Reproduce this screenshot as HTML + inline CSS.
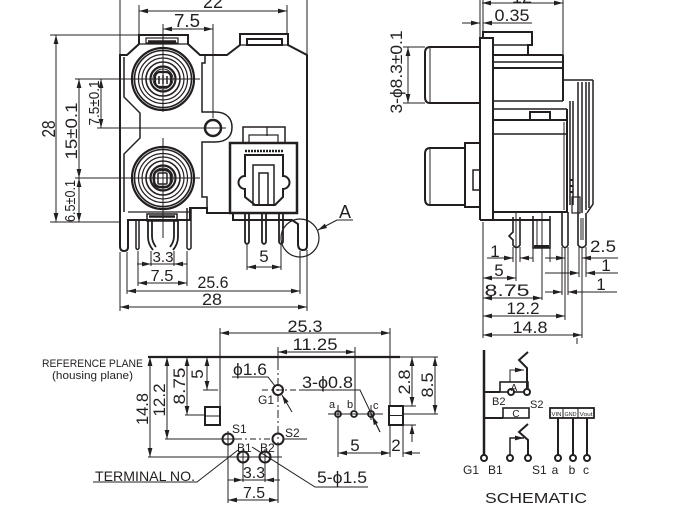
<!DOCTYPE html>
<html><head><meta charset="utf-8"><style>
html,body{margin:0;padding:0;background:#fff;}
svg{display:block;}
text{font-family:"Liberation Sans",Arial,sans-serif;fill:#231f20;stroke:none;}
</style></head><body>
<svg width="687" height="511" viewBox="0 0 687 511" xmlns="http://www.w3.org/2000/svg">
<defs>
<marker id="ar" markerUnits="userSpaceOnUse" markerWidth="9" markerHeight="6" refX="9" refY="3" orient="auto-start-reverse"><path d="M0,0.6 L9,3 L0,5.4 Z" fill="#231f20" stroke="none"/></marker>
</defs>
<g stroke="#231f20" fill="none" stroke-width="1">

<!-- ================= FRONT VIEW ================= -->
<!-- top dims -->
<line x1="120" y1="0" x2="120" y2="55"/>
<line x1="307" y1="0" x2="307" y2="55"/>
<line x1="139" y1="5" x2="139" y2="35"/>
<line x1="287" y1="5" x2="287" y2="35"/>
<line x1="139" y1="11" x2="287" y2="11" marker-start="url(#ar)" marker-end="url(#ar)"/>
<line x1="163" y1="24" x2="163" y2="112"/>
<line x1="213" y1="24" x2="213" y2="118"/>
<line x1="163" y1="29" x2="213" y2="29" marker-start="url(#ar)" marker-end="url(#ar)"/>

<!-- left dims -->
<line x1="50" y1="35" x2="139" y2="35"/>
<line x1="50" y1="222" x2="120" y2="222"/>
<line x1="56" y1="35" x2="56" y2="222" marker-start="url(#ar)" marker-end="url(#ar)"/>
<line x1="75" y1="79" x2="200" y2="79"/>
<line x1="97" y1="128" x2="226" y2="128"/>
<line x1="75" y1="178" x2="200" y2="178"/>
<line x1="79" y1="79" x2="79" y2="178" marker-start="url(#ar)" marker-end="url(#ar)"/>
<line x1="79" y1="178" x2="79" y2="222" marker-start="url(#ar)" marker-end="url(#ar)"/>
<line x1="101" y1="79" x2="101" y2="128" marker-start="url(#ar)" marker-end="url(#ar)"/>

<!-- body outline -->
<path stroke-width="2" d="M128,220 L128,247 Q128,251 124,251 Q120,251 120,246 L120,55 L127,55 L139,44 L139,35 L188,35 L188,44 L200,55 L227,55 L240,45 L240,34 L288,34 L288,45 L307,55 L307,246 Q307,250 303,250 Q298,250 298,244 L298,224 L292,220 L233,220 L233,213 L207,213 L207,208 L190,208 L190,220 Z"/>
<rect x="146" y="38" width="32" height="5" stroke-width="1.2"/>
<line x1="148" y1="41.5" x2="176" y2="41.5" stroke-width="2.5"/>
<rect x="247" y="39" width="35" height="6" stroke-width="2"/>
<line x1="139" y1="44" x2="188" y2="44" stroke-width="1.2"/>
<line x1="240" y1="45" x2="288" y2="45" stroke-width="1.2"/>

<!-- inner profiles -->
<path stroke-width="1.5" d="M124,57 L124,97 L140,113 L140,138 L124,154 L124,212"/>
<path stroke-width="1.5" d="M205,55 L205,63 L202,63 L202,112 L215,112 C228,112 232,120 232,127 C232,135 228,142 215,142 L202,142 L202,197 L207,197 L207,208"/>
<line x1="128" y1="212" x2="190" y2="212" stroke-width="1.2"/>

<!-- top jack -->
<circle cx="163" cy="79" r="31" stroke-width="2.2"/>
<circle cx="163" cy="79" r="28.5" stroke-width="1.6"/>
<circle cx="163" cy="79" r="24.5" stroke-width="1.2"/>
<circle cx="163" cy="79" r="21" stroke-width="1.2"/>
<circle cx="163" cy="79" r="17" stroke-width="1.6"/>
<circle cx="163" cy="79" r="12.5" stroke-width="2.2"/>
<circle cx="163" cy="79" r="10" stroke-width="1"/>
<rect x="155" y="72" width="16" height="15" rx="5" stroke-width="2.2"/>
<path d="M159,76 L159,84 M163,75 L163,84 M167,76 L167,84" stroke-width="1.5"/>

<!-- bottom jack -->
<circle cx="163" cy="178" r="31" stroke-width="2.2"/>
<circle cx="163" cy="178" r="28.5" stroke-width="1.6"/>
<circle cx="163" cy="178" r="24.5" stroke-width="1.2"/>
<circle cx="163" cy="178" r="21" stroke-width="1.2"/>
<circle cx="163" cy="178" r="17" stroke-width="1.6"/>
<circle cx="163" cy="178" r="12.5" stroke-width="2.2"/>
<circle cx="163" cy="178" r="10" stroke-width="1"/>
<rect x="154" y="170" width="17" height="17" rx="6" stroke-width="2.5"/>
<rect x="158" y="173" width="9" height="11" rx="1" stroke-width="1.5"/>
<line x1="163" y1="138" x2="163" y2="238"/>

<!-- hole -->
<circle cx="213" cy="128" r="8" stroke-width="2.5"/>

<!-- optical module -->
<rect x="230" y="143" width="67" height="70" stroke-width="2.5"/>
<rect x="243" y="127" width="42" height="16" stroke-width="1.5"/>
<line x1="267" y1="127" x2="267" y2="136" stroke-width="1.2"/>
<rect x="249" y="135" width="29" height="8" stroke-width="1.2"/>
<line x1="245" y1="151" x2="283" y2="151" stroke-width="2.5" stroke-dasharray="2,1"/>
<path stroke-width="2" d="M245,155 L283,155 L283,176 A6,6 0 0 1 283,189 L283,197 L275,205 L255,205 L245,197 L245,189 A6,6 0 0 1 245,176 Z"/>
<rect x="253" y="165" width="21" height="40" stroke-width="1.5"/>
<rect x="259" y="173" width="9" height="32" stroke-width="1.5"/>
<path stroke-width="1.8" d="M245,213 L245,242 Q247,246 249,242 L249,213 M262,213 L262,242 Q264,246 266,242 L266,213 M279,213 L279,242 Q281,246 283,242 L283,213"/>

<!-- front pins / springs -->
<path stroke-width="1.5" d="M136,220 L136,248 Q137.5,251 139,248 L139,220"/>
<path stroke-width="1.8" d="M148,221 L148,237 Q148,244 153,250 M152,221 L152,236 Q152,242 156,247"/>
<path stroke-width="1.8" d="M178,221 L178,237 Q178,244 173,250 M174,221 L174,236 Q174,242 170,247"/>
<path stroke-width="1.5" d="M187,208 L187,248 Q189,251 191,248 L191,208"/>
<rect x="147" y="214" width="30" height="7" stroke-width="1.5"/>
<line x1="149" y1="216.5" x2="175" y2="216.5" stroke-width="2.5"/>

<!-- bottom dims front -->
<line x1="151" y1="251" x2="151" y2="266"/>
<line x1="174" y1="251" x2="174" y2="266"/>
<line x1="137" y1="264" x2="187" y2="264"/>
<line x1="137" y1="264" x2="151" y2="264" marker-end="url(#ar)"/>
<line x1="187" y1="264" x2="174" y2="264" marker-end="url(#ar)"/>
<line x1="138" y1="251" x2="138" y2="286"/>
<line x1="187" y1="251" x2="187" y2="286"/>
<line x1="138" y1="283" x2="187" y2="283" marker-start="url(#ar)" marker-end="url(#ar)"/>
<line x1="127" y1="252" x2="127" y2="294"/>
<line x1="300" y1="251" x2="300" y2="294"/>
<line x1="127" y1="291" x2="300" y2="291" marker-start="url(#ar)" marker-end="url(#ar)"/>
<line x1="120" y1="252" x2="120" y2="311"/>
<line x1="307" y1="250" x2="307" y2="311"/>
<line x1="120" y1="307" x2="307" y2="307" marker-start="url(#ar)" marker-end="url(#ar)"/>
<line x1="247" y1="245" x2="247" y2="270"/>
<line x1="281" y1="245" x2="281" y2="270"/>
<line x1="247" y1="267" x2="281" y2="267" marker-start="url(#ar)" marker-end="url(#ar)"/>

<!-- detail A -->
<circle cx="300" cy="238" r="19" stroke-width="1.2"/>
<line x1="337" y1="220" x2="318" y2="230" marker-end="url(#ar)"/>
<line x1="337" y1="220" x2="353" y2="220"/>

<!-- ================= SIDE VIEW ================= -->
<line x1="482" y1="3" x2="563" y2="3" marker-start="url(#ar)" marker-end="url(#ar)"/>
<line x1="480" y1="0" x2="480" y2="38"/>
<line x1="483" y1="0" x2="483" y2="32"/>
<line x1="563" y1="0" x2="563" y2="55"/>
<line x1="462" y1="23" x2="480" y2="23" marker-end="url(#ar)"/>
<line x1="532" y1="23" x2="483" y2="23" marker-end="url(#ar)"/>

<line x1="403" y1="47" x2="425" y2="47"/>
<line x1="403" y1="103" x2="425" y2="103"/>
<line x1="408" y1="47" x2="408" y2="103" marker-start="url(#ar)" marker-end="url(#ar)"/>

<path stroke-width="2" d="M480,103 L430,103 Q425,103 425,97 L425,53 Q425,47 430,47 L480,47"/>
<line x1="430" y1="48" x2="430" y2="102"/>
<path stroke-width="2" d="M480,220 L480,38 L493,38 L493,220"/>
<path stroke-width="2" d="M483,38 L483,32 L532,32 L532,45 L528,45 L528,55"/>
<line x1="493" y1="45" x2="528" y2="45" stroke-width="1.5"/>
<line x1="493" y1="55" x2="563" y2="55" stroke-width="2"/>
<line x1="493" y1="62" x2="563" y2="62" stroke-width="1.5"/>
<line x1="493" y1="68" x2="563" y2="68" stroke-width="2"/>
<line x1="563" y1="55" x2="563" y2="101" stroke-width="2"/>
<line x1="563" y1="80" x2="593" y2="80" stroke-width="1.5"/>
<line x1="493" y1="101" x2="563" y2="101" stroke-width="1.5"/>
<line x1="493" y1="109" x2="567" y2="109" stroke-width="1.5"/>
<rect x="530" y="112" width="20" height="8" stroke-width="2"/>
<line x1="493" y1="120" x2="567" y2="120" stroke-width="2"/>
<line x1="493" y1="134" x2="567" y2="134" stroke-width="1.5"/>
<path stroke-width="2" d="M567,109 L567,212 L493,212"/>
<line x1="564" y1="122" x2="564" y2="210" stroke-width="1"/>
<line x1="480" y1="220" x2="550" y2="220" stroke-width="2"/>
<path stroke-width="2" d="M465,205 L430,205 Q425,205 425,199 L425,154 Q425,148 430,148 L465,148"/>
<line x1="430" y1="149" x2="430" y2="204"/>
<rect x="465" y="143" width="15" height="64" stroke-width="2"/>
<rect x="473" y="170" width="7" height="20" stroke-width="1.5"/>

<!-- spring strips -->
<path stroke-width="1.5" d="M570,101 L570,205 M573,101 L573,205"/>
<path stroke-width="2" d="M570,180 L573,180 M570,186 L573,186 M570,192 L573,192"/>
<path stroke-width="1.5" d="M578,82 L578,213 M582,82 L582,213 M586,82 L586,210 M589,82 L589,208 M593,80 L593,204 L587,213"/>
<rect x="572" y="197" width="8" height="16" stroke-width="1.2"/>

<!-- side pins -->
<path stroke-width="1.6" d="M513,217 L513,232 L509,236 L513,240 L513,245 Q516.5,250 520,245 L520,217"/>
<path stroke-width="1.6" d="M533,216 L533,248 L550,248 L550,216"/>
<line x1="534" y1="246.5" x2="549" y2="246.5" stroke-width="3"/>
<line x1="537" y1="220" x2="537" y2="245"/>
<path stroke-width="1.6" d="M562,212 L562,245 Q565,250 568,245 L568,212"/>
<path stroke-width="1.6" d="M578,213 L578,245 Q582,250 586,245 L586,213"/>
<path d="M581,218 L581,240 M583,218 L583,240"/>

<!-- side dims -->
<line x1="483" y1="222" x2="483" y2="338"/>
<line x1="513" y1="247" x2="513" y2="262"/>
<line x1="520" y1="247" x2="520" y2="262"/>
<line x1="487" y1="258" x2="513" y2="258" marker-end="url(#ar)"/>
<line x1="533" y1="258" x2="520" y2="258" marker-end="url(#ar)"/>
<line x1="533" y1="248" x2="533" y2="262"/>
<line x1="550" y1="248" x2="550" y2="262"/>
<line x1="545" y1="258" x2="565" y2="258" marker-end="url(#ar)"/>
<line x1="618" y1="258" x2="582" y2="258" marker-end="url(#ar)"/>
<line x1="562" y1="247" x2="562" y2="295"/>
<line x1="568" y1="247" x2="568" y2="295"/>
<line x1="579" y1="247" x2="579" y2="277"/>
<line x1="586" y1="247" x2="586" y2="277"/>
<line x1="545" y1="273" x2="579" y2="273" marker-end="url(#ar)"/>
<line x1="618" y1="273" x2="586" y2="273" marker-end="url(#ar)"/>
<line x1="545" y1="292" x2="562" y2="292" marker-end="url(#ar)"/>
<line x1="617" y1="292" x2="568" y2="292" marker-end="url(#ar)"/>
<line x1="516" y1="212" x2="516" y2="281"/>
<line x1="483" y1="278" x2="516" y2="278" marker-start="url(#ar)" marker-end="url(#ar)"/>
<line x1="542" y1="212" x2="542" y2="300"/>
<line x1="483" y1="298" x2="542" y2="298" marker-start="url(#ar)" marker-end="url(#ar)"/>
<line x1="565" y1="247" x2="565" y2="320"/>
<line x1="483" y1="316" x2="565" y2="316" marker-start="url(#ar)" marker-end="url(#ar)"/>
<line x1="582" y1="247" x2="582" y2="338"/>
<line x1="483" y1="335" x2="582" y2="335" marker-start="url(#ar)" marker-end="url(#ar)"/>

<!-- ================= FOOTPRINT ================= -->
<line x1="148" y1="357" x2="400" y2="357" stroke-width="2.2"/>
<line x1="400" y1="357" x2="438" y2="357"/>
<line x1="220" y1="328" x2="220" y2="407"/>
<line x1="390" y1="328" x2="390" y2="406"/>
<line x1="220" y1="333" x2="390" y2="333" marker-start="url(#ar)" marker-end="url(#ar)"/>
<line x1="278" y1="347" x2="278" y2="362"/>
<line x1="278" y1="362" x2="278" y2="502" stroke-dasharray="8,3,2,3"/>
<line x1="355" y1="347" x2="355" y2="410"/>
<line x1="278" y1="352" x2="355" y2="352" marker-start="url(#ar)" marker-end="url(#ar)"/>

<line x1="150" y1="357" x2="150" y2="457" marker-start="url(#ar)" marker-end="url(#ar)"/>
<line x1="167" y1="357" x2="167" y2="439" marker-start="url(#ar)" marker-end="url(#ar)"/>
<line x1="187" y1="357" x2="187" y2="415" marker-start="url(#ar)" marker-end="url(#ar)"/>
<line x1="207" y1="357" x2="207" y2="390" marker-start="url(#ar)" marker-end="url(#ar)"/>
<line x1="203" y1="390" x2="218" y2="390"/>
<line x1="262" y1="390" x2="300" y2="390" stroke-dasharray="6,3,2,3"/>
<line x1="185" y1="415" x2="205" y2="415"/>
<line x1="165" y1="439" x2="222" y2="439"/>
<line x1="236" y1="439" x2="272" y2="439" stroke-dasharray="6,3,2,3"/>
<line x1="284" y1="439" x2="307" y2="439"/>
<line x1="148" y1="457" x2="282" y2="457"/>

<rect x="205" y="407" width="15" height="18" stroke-width="2"/>
<line x1="205" y1="416" x2="220" y2="416"/>
<rect x="389" y="406" width="14" height="19" stroke-width="2"/>
<line x1="389" y1="415.5" x2="403" y2="415.5"/>

<circle cx="278" cy="390" r="5" stroke-width="2"/>
<path d="M232,377 L268,377 L275,386"/>
<line x1="292" y1="412" x2="282" y2="395" marker-end="url(#ar)"/>
<circle cx="228" cy="439" r="5.5" stroke-width="2"/>
<path d="M220,439 L236,439 M228,431 L228,447"/>
<circle cx="278" cy="439" r="5.5" stroke-width="2"/>
<circle cx="243" cy="457" r="5.5" stroke-width="2"/>
<path d="M235,457 L251,457 M243,449 L243,465"/>
<circle cx="265" cy="457" r="5.5" stroke-width="2"/>
<path d="M257,457 L273,457 M265,449 L265,465"/>

<line x1="328" y1="414" x2="383" y2="414"/>
<circle cx="338" cy="414" r="3" stroke-width="1.8"/>
<circle cx="354" cy="414" r="3" stroke-width="1.8"/>
<circle cx="371" cy="414" r="3" stroke-width="1.8"/>
<line x1="338" y1="405" x2="338" y2="457"/>
<line x1="371" y1="405" x2="371" y2="420"/>
<path d="M300,390 L360,390 L380,432"/>
<line x1="380" y1="432" x2="372" y2="416" marker-end="url(#ar)"/>
<line x1="390" y1="425" x2="390" y2="457"/>
<line x1="403" y1="425" x2="403" y2="457"/>
<line x1="338" y1="453" x2="390" y2="453" marker-start="url(#ar)" marker-end="url(#ar)"/>
<line x1="420" y1="453" x2="403" y2="453" marker-end="url(#ar)"/>

<line x1="403" y1="406" x2="416" y2="406"/>
<line x1="403" y1="425" x2="416" y2="425"/>
<line x1="403" y1="414" x2="438" y2="414"/>
<line x1="412" y1="357" x2="412" y2="406" marker-start="url(#ar)" marker-end="url(#ar)"/>
<line x1="412" y1="442" x2="412" y2="425" marker-end="url(#ar)"/>
<line x1="435" y1="357" x2="435" y2="414" marker-start="url(#ar)" marker-end="url(#ar)"/>

<path d="M93,482 L197,482 L238,450"/>
<path d="M368,487 L315,487 L252,447"/>
<line x1="243" y1="457" x2="243" y2="482"/>
<line x1="265" y1="457" x2="265" y2="482"/>
<line x1="228" y1="480" x2="280" y2="480"/>
<line x1="228" y1="480" x2="243" y2="480" marker-end="url(#ar)"/>
<line x1="280" y1="480" x2="265" y2="480" marker-end="url(#ar)"/>
<line x1="228" y1="445" x2="228" y2="503"/>
<line x1="278" y1="445" x2="278" y2="503"/>
<line x1="228" y1="500" x2="278" y2="500" marker-start="url(#ar)" marker-end="url(#ar)"/>

<!-- ================= SCHEMATIC ================= -->
<line x1="484" y1="350" x2="484" y2="455" stroke-width="2.5"/>
<line x1="484" y1="392" x2="500" y2="392" stroke-width="2"/>
<rect x="500" y="382" width="28" height="10" stroke-width="1.6"/>
<path d="M510,382 L510,370 L524,370" marker-end="url(#ar)"/>
<path stroke-width="2" d="M527,389 L527,368 L519,360 L528,352"/>
<line x1="484" y1="418" x2="503" y2="418" stroke-width="2"/>
<rect x="503" y="408" width="26" height="10" stroke-width="1.6"/>
<path stroke-width="2" d="M528,455 L528,440 L519,432 L528,424"/>
<path d="M510,455 L510,438 L524,438" stroke-width="1.5" marker-end="url(#ar)"/>
<circle cx="484" cy="458" r="3" stroke-width="2" fill="#fff"/>
<circle cx="510" cy="458" r="3" stroke-width="2" fill="#fff"/>
<circle cx="528" cy="458" r="3" stroke-width="2" fill="#fff"/>
<circle cx="511" cy="392" r="3" stroke-width="2" fill="#fff"/>
<circle cx="527" cy="392" r="3" stroke-width="2" fill="#fff"/>

<rect x="550" y="408" width="44" height="10" stroke-width="1.8"/>
<line x1="563" y1="408" x2="563" y2="418"/>
<line x1="578" y1="408" x2="578" y2="418"/>
<line x1="558" y1="418" x2="558" y2="455" stroke-width="2"/>
<line x1="573" y1="418" x2="573" y2="455" stroke-width="2"/>
<line x1="587" y1="418" x2="587" y2="455" stroke-width="2"/>
<circle cx="558" cy="458" r="3" stroke-width="2" fill="#fff"/>
<circle cx="573" cy="458" r="3" stroke-width="2" fill="#fff"/>
<circle cx="587" cy="458" r="3" stroke-width="2" fill="#fff"/>
<line x1="577" y1="338" x2="577" y2="344"/>
</g>

<!-- ================= TEXT ================= -->
<g font-size="18">
<text x="213" y="8" text-anchor="middle" textLength="20" lengthAdjust="spacingAndGlyphs">22</text>
<text x="187" y="27" text-anchor="middle" textLength="26" lengthAdjust="spacingAndGlyphs">7.5</text>
<text transform="translate(55,129) rotate(-90)" text-anchor="middle" textLength="17" lengthAdjust="spacingAndGlyphs">28</text>
<text transform="translate(77,131) rotate(-90)" text-anchor="middle" font-size="17" textLength="57" lengthAdjust="spacingAndGlyphs">15±0.1</text>
<text transform="translate(99,103) rotate(-90)" text-anchor="middle" font-size="15" textLength="45" lengthAdjust="spacingAndGlyphs">7.5±0.1</text>
<text transform="translate(75,201) rotate(-90)" text-anchor="middle" font-size="15" textLength="42" lengthAdjust="spacingAndGlyphs">6.5±0.1</text>
<text x="163" y="262" text-anchor="middle" font-size="15" textLength="21" lengthAdjust="spacingAndGlyphs">3.3</text>
<text x="162" y="281" text-anchor="middle" font-size="16" textLength="23" lengthAdjust="spacingAndGlyphs">7.5</text>
<text x="213" y="288" text-anchor="middle" font-size="17" textLength="31" lengthAdjust="spacingAndGlyphs">25.6</text>
<text x="212" y="305" text-anchor="middle" font-size="17" textLength="20" lengthAdjust="spacingAndGlyphs">28</text>
<text x="264" y="262" text-anchor="middle" font-size="17">5</text>
<text x="345" y="218" text-anchor="middle" font-size="18">A</text>

<text x="522" y="3" text-anchor="middle">12</text>
<text x="512" y="21" text-anchor="middle" font-size="17" textLength="35" lengthAdjust="spacingAndGlyphs">0.35</text>
<text transform="translate(402,72) rotate(-90)" text-anchor="middle" font-size="17" textLength="83" lengthAdjust="spacingAndGlyphs">3-ϕ8.3±0.1</text>
<text x="495" y="257" text-anchor="middle" font-size="17">1</text>
<text x="603" y="252" text-anchor="middle" font-size="17" textLength="26" lengthAdjust="spacingAndGlyphs">2.5</text>
<text x="606" y="271" text-anchor="middle" font-size="17">1</text>
<text x="601" y="290" text-anchor="middle" font-size="17">1</text>
<text x="499" y="276" text-anchor="middle" font-size="17">5</text>
<text x="507" y="296" text-anchor="middle" font-size="17" textLength="45" lengthAdjust="spacingAndGlyphs">8.75</text>
<text x="523" y="314" text-anchor="middle" font-size="17" textLength="33" lengthAdjust="spacingAndGlyphs">12.2</text>
<text x="530" y="333" text-anchor="middle" font-size="17" textLength="35" lengthAdjust="spacingAndGlyphs">14.8</text>

<text x="42" y="367" font-size="11" textLength="101" lengthAdjust="spacingAndGlyphs">REFERENCE PLANE</text>
<text x="52" y="379" font-size="11" textLength="81" lengthAdjust="spacingAndGlyphs">(housing plane)</text>
<text transform="translate(148,409) rotate(-90)" text-anchor="middle" font-size="17" textLength="32" lengthAdjust="spacingAndGlyphs">14.8</text>
<text transform="translate(165,400) rotate(-90)" text-anchor="middle" font-size="17" textLength="33" lengthAdjust="spacingAndGlyphs">12.2</text>
<text transform="translate(185,386) rotate(-90)" text-anchor="middle" font-size="17" textLength="37" lengthAdjust="spacingAndGlyphs">8.75</text>
<text transform="translate(203,374) rotate(-90)" text-anchor="middle" font-size="17">5</text>
<text x="305" y="332" text-anchor="middle" font-size="17" textLength="35" lengthAdjust="spacingAndGlyphs">25.3</text>
<text x="315" y="350" text-anchor="middle" font-size="17" textLength="45" lengthAdjust="spacingAndGlyphs">11.25</text>
<text x="233" y="375" font-size="17" textLength="34" lengthAdjust="spacingAndGlyphs">ϕ1.6</text>
<text x="258" y="404" font-size="12">G1</text>
<text x="302" y="388" font-size="17" textLength="51" lengthAdjust="spacingAndGlyphs">3-ϕ0.8</text>
<text x="329" y="408" font-size="11">a</text>
<text x="347" y="408" font-size="11">b</text>
<text x="373" y="409" font-size="11">c</text>
<text x="355" y="451" text-anchor="middle" font-size="17">5</text>
<text x="396" y="451" text-anchor="middle" font-size="17">2</text>
<text transform="translate(410,382) rotate(-90)" text-anchor="middle" font-size="17" textLength="25" lengthAdjust="spacingAndGlyphs">2.8</text>
<text transform="translate(433,385) rotate(-90)" text-anchor="middle" font-size="17" textLength="25" lengthAdjust="spacingAndGlyphs">8.5</text>
<text x="232" y="433" font-size="12">S1</text>
<text x="285" y="437" font-size="12">S2</text>
<text x="237" y="452" font-size="12">B1</text>
<text x="260" y="452" font-size="12">B2</text>
<text x="95" y="481" font-size="14" textLength="100" lengthAdjust="spacingAndGlyphs">TERMINAL NO.</text>
<text x="317" y="483" font-size="17" textLength="50" lengthAdjust="spacingAndGlyphs">5-ϕ1.5</text>
<text x="254" y="478" text-anchor="middle" font-size="16" textLength="22" lengthAdjust="spacingAndGlyphs">3.3</text>
<text x="254" y="498" text-anchor="middle" font-size="16" textLength="22" lengthAdjust="spacingAndGlyphs">7.5</text>

<text x="514" y="391" text-anchor="middle" font-size="10">A</text>
<text x="516" y="417" text-anchor="middle" font-size="10">C</text>
<text x="492" y="405" font-size="11">B2</text>
<text x="530" y="408" font-size="11">S2</text>
<text x="551.5" y="416" font-size="5.5" textLength="10" lengthAdjust="spacingAndGlyphs">VIN</text>
<text x="564.5" y="416" font-size="5.5" textLength="12" lengthAdjust="spacingAndGlyphs">GND</text>
<text x="579.5" y="416" font-size="5.5" textLength="13" lengthAdjust="spacingAndGlyphs">Vout</text>
<text x="463" y="474" font-size="12">G1</text>
<text x="488" y="474" font-size="12">B1</text>
<text x="532" y="474" font-size="12">S1</text>
<text x="555" y="474" text-anchor="middle" font-size="12">a</text>
<text x="572" y="474" text-anchor="middle" font-size="12">b</text>
<text x="586" y="474" text-anchor="middle" font-size="12">c</text>
<text x="485" y="503" font-size="15" textLength="102" lengthAdjust="spacingAndGlyphs">SCHEMATIC</text>
</g>
</svg>
</body></html>
